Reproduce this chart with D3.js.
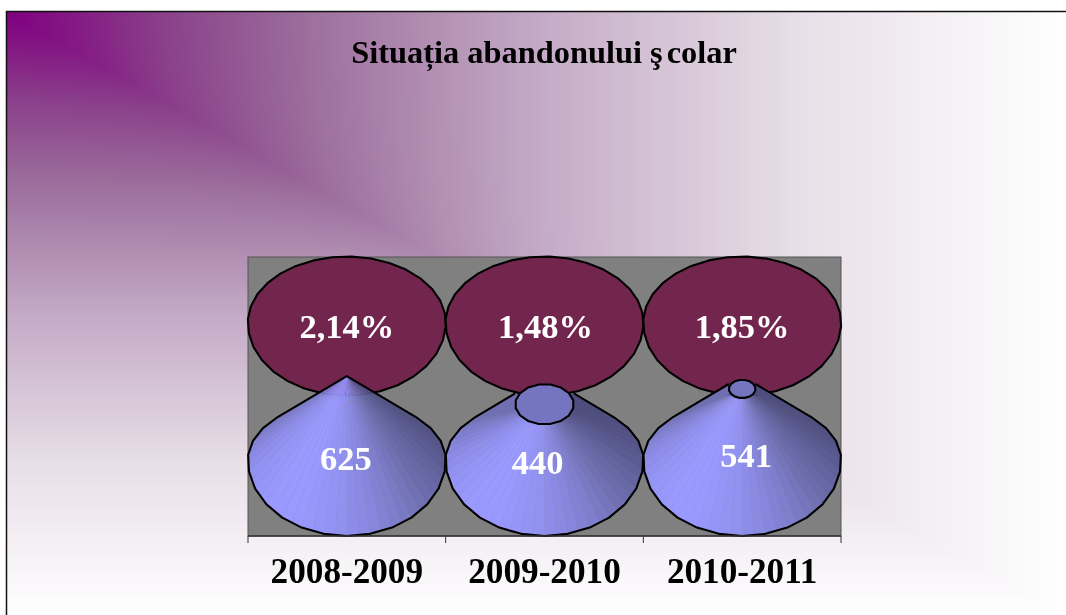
<!DOCTYPE html>
<html><head><meta charset="utf-8">
<script src="https://cdn.jsdelivr.net/npm/d3@7/dist/d3.min.js"></script>
<style>html,body{margin:0;padding:0;background:#fff;overflow:hidden}
canvas,svg{position:absolute;left:0;top:0}</style></head>
<body><div id="chart"></div>
<script>
const titleHead = "Situația abandonului ş";
const titleTail = "colar";
const categories = ["2008-2009","2009-2010","2010-2011"];
const abandonCounts = [625,440,541];
const abandonRates = [2.14,1.48,1.85];
const rateLabels = ["2,14%","1,48%","1,85%"];
const countLabelNudgeX = [-1,-7,4];
const countLabelNudgeY = [0,4,-3];
const rateLabelNudgeX = [0,1,0];

const W=1066,H=615;
const root=d3.select("#chart");
// background: corner-based gradient
const canvas=root.append("canvas").attr("width",W).attr("height",H).node();
const ctx=canvas.getContext("2d");
const ramp=d3.scaleLinear()
  .domain([0,0.14,0.28,0.5,0.75,1])
  .range(["#800080","#8a3f8a","#9c6e9c","#c4aac6","#e8e0e8","#ffffff"])
  .interpolate(d3.interpolateRgb);
const frame={x:6,y:11};
ctx.fillStyle="#fff";ctx.fillRect(0,0,W,H);
const cell=4;
for(let y=frame.y;y<H;y+=cell)for(let x=frame.x;x<W;x+=cell){
  const u=(x-frame.x)/(W-frame.x),v=(y-frame.y)/(H-frame.y);
  const m=Math.max(u,v),d=Math.abs(u-v);
  const fade=Math.max(0,1-m/0.6);
  const t=m*(1-0.16*fade*Math.exp(-d/0.08));
  ctx.fillStyle=ramp(t);ctx.fillRect(x,y,cell,cell);
}
const svg=root.append("svg").attr("width",W).attr("height",H);
svg.append("path").attr("d",`M${frame.x+0.5},${H}V${frame.y+0.5}H${W}`)
  .attr("fill","none").attr("stroke","#111").attr("stroke-width",1.5);

const plot={l:248,r:841,t:257,b:536};
const x=d3.scaleBand().domain(categories).range([plot.l,plot.r]);
const y=d3.scaleLinear().domain([0,2]).range([plot.b,plot.t]);
svg.append("rect").attr("x",plot.l).attr("y",plot.t).attr("width",plot.r-plot.l).attr("height",plot.b-plot.t)
  .attr("fill","#808080").attr("stroke","#555").attr("stroke-width",1);

const titleText=svg.append("text").attr("x",544).attr("y",63).attr("text-anchor","middle")
  .attr("font-family","'Liberation Serif'").attr("font-weight","bold").attr("font-size",32.4)
  .attr("fill","#000");
titleText.append("tspan").text(titleHead);
titleText.append("tspan").attr("dx",4).text(titleTail);

const line=d3.line().x(d=>d[0]).y(d=>d[1]);
const rx=x.bandwidth()/2+0.2;
const maxCount=d3.max(abandonCounts);
const strokeW=2.1;
// upper rate ellipses
const topCy=y(1.53);
categories.forEach((c,i)=>{
  const cx=x(c)+x.bandwidth()/2;
  const pts=d3.range(32).map(k=>{
    const a=k/32*2*Math.PI+0.05;
    const s=Math.sin(a);
    return [cx+rx*Math.cos(a), topCy+(s<0?66:73)*s];
  });
  svg.append("path").attr("d",line(pts)+"Z").attr("fill","#72264d").attr("stroke","#000").attr("stroke-width",strokeW).attr("stroke-linejoin","round");
});
// lower count cones
const baseCy=y(0.545), apexY=y(1.146);
const ryUp=60, ryDown=76;
const h=baseCy-apexY;
const yTan=ryUp*ryUp/h, cTan=Math.sqrt(1-(yTan/ryUp)**2);
const thetaT=Math.atan2(-yTan/ryUp,cTan);
const shade=d3.scaleLinear().domain([0,0.5,1]).range(["#4d4d7e","#7272b6","#9999ff"]);
const slope=(h-yTan)/(rx*cTan);
const N=40;
categories.forEach((c,i)=>{
  const cx=x(c)+x.bandwidth()/2;
  const t=1-abandonCounts[i]/maxCount;
  const dr=rx*t, dry=68*t, dcy=apexY+95*t;
  const arc=d3.range(N+1).map(k=>{
    const a=thetaT+(Math.PI-2*thetaT)*k/N;
    const s=Math.sin(a);
    return {a,p:[cx+rx*Math.cos(a), baseCy+(s<0?ryUp:ryDown)*s]};
  });
  const fan=[cx,t>0?dcy:apexY];
  const g=svg.append("g");
  const topR=[cx+dr,apexY+slope*dr], topL=[cx-dr,apexY+slope*dr];
  const ring=[{a:thetaT-0.05,p:topR},...arc,{a:Math.PI-thetaT+0.05,p:topL}];
  d3.pairs(ring).forEach(([p,q])=>{
    const mid=(p.a+q.a)/2;
    const col=shade((1+Math.cos(mid-2.3))/2);
    g.append("path").attr("d",line([fan,p.p,q.p])+"Z").attr("fill",col).attr("stroke",col).attr("stroke-width",0.25);
  });
  const outline=[topR,...arc.filter((d,k)=>k%2===0).map(d=>d.p),topL];
  if(t===0) outline.push([cx,apexY]);
  g.append("path").attr("d",line(outline)+(t===0?"Z":"")).attr("fill","none").attr("stroke","#000").attr("stroke-width",strokeW).attr("stroke-linejoin","round");
  if(t>0){
    const disk=d3.range(16).map(k=>{const a=k/16*2*Math.PI+0.2;return [cx+dr*Math.cos(a),dcy+dry*Math.sin(a)];});
    g.append("path").attr("d",line(disk)+"Z").attr("fill","#7474c0").attr("stroke","#000").attr("stroke-width",strokeW);
  }
});
// labels
const lab=(sel)=>sel.attr("text-anchor","middle").attr("font-family","'Liberation Serif'").attr("font-weight","bold").attr("font-size",34.5);
categories.forEach((c,i)=>{
  const cx=x(c)+x.bandwidth()/2;
  svg.append("text").call(lab).attr("x",cx+rateLabelNudgeX[i]).attr("y",338).attr("fill","#fff").text(rateLabels[i]);
  svg.append("text").call(lab).attr("x",cx+countLabelNudgeX[i]).attr("y",470+countLabelNudgeY[i]).attr("fill","#fff").text(abandonCounts[i]);
});
// axis
const axisG=svg.append("g");
axisG.append("line").attr("x1",plot.l).attr("x2",plot.r).attr("y1",plot.b).attr("y2",plot.b).attr("stroke","#333").attr("stroke-width",1.5);
[...categories.map(c=>x(c)),plot.r].forEach(px=>{
  axisG.append("line").attr("x1",px).attr("x2",px).attr("y1",plot.b).attr("y2",plot.b+7).attr("stroke","#333").attr("stroke-width",1);
});
categories.forEach(c=>{
  svg.append("text").call(lab).attr("font-size",35.2).attr("x",x(c)+x.bandwidth()/2).attr("y",583).attr("fill","#000").text(c);
});
</script></body></html>
